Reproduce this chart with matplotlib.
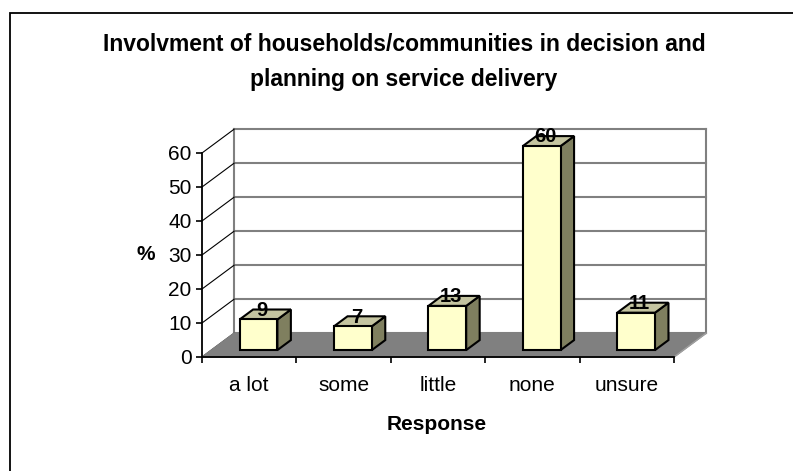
import matplotlib
matplotlib.use('Agg')
import matplotlib.pyplot as plt
from matplotlib.patches import Polygon, Rectangle

categories = ['a lot', 'some', 'little', 'none', 'unsure']
percent = [9, 7, 13, 60, 11]
y_ticks = [0, 10, 20, 30, 40, 50, 60]

plt.rcParams['font.family'] = ['Liberation Sans', 'DejaVu Sans']

# pseudo 3-D: depth of the floor/back wall (x in category units, y in % units)
DX, DY = 0.34, 7.0
F_FRONT, F_BACK = 0.29, 0.71   # bar front / back face as fraction of depth
BAR_W = 0.4

FACE = '#FFFFCC'
SIDE = '#7F7F5F'
TOP = '#C4C4A0'
WALL = '#808080'

fig = plt.figure(figsize=(7.93, 4.71), dpi=100)
ax = fig.add_axes([202 / 793, 114 / 471, 472 / 793, 204 / 471])
n = len(categories)
ymax = y_ticks[-1]
ax.set_xlim(0, n)
ax.set_ylim(0, ymax)
ax.set_facecolor('none')

# floor
ax.add_patch(Polygon([(0, 0), (n, 0), (n + DX, DY), (DX, DY)], closed=True,
                     fc=WALL, ec=WALL, lw=1, clip_on=False, zorder=1))
ax.plot([n, n + DX], [0, DY], color='#A0A0A0', lw=1, clip_on=False, zorder=1.1)

# back wall gridlines and left wall diagonals
for v in y_ticks:
    ax.plot([DX, n + DX], [v + DY, v + DY], color=WALL, lw=1.5,
            clip_on=False, zorder=0.5)
    ax.plot([0, DX], [v, v + DY], color='black', lw=0.8,
            clip_on=False, zorder=0.6)
ax.plot([DX, DX], [DY, ymax + DY], color=WALL, lw=1.5, clip_on=False, zorder=0.5)
ax.plot([n + DX, n + DX], [DY, ymax + DY], color=WALL, lw=1.5,
        clip_on=False, zorder=0.5)

# bars: front, side and top faces
ddx = (F_BACK - F_FRONT) * DX
ddy = (F_BACK - F_FRONT) * DY
for i, v in enumerate(percent):
    x0 = i + 0.5 - BAR_W / 2 + F_FRONT * DX
    x1 = x0 + BAR_W
    yb = F_FRONT * DY
    yt = v + F_FRONT * DY
    front = [(x0, yb), (x1, yb), (x1, yt), (x0, yt)]
    side = [(x1, yb), (x1 + ddx, yb + ddy), (x1 + ddx, yt + ddy), (x1, yt)]
    top = [(x0, yt), (x1, yt), (x1 + ddx, yt + ddy), (x0 + ddx, yt + ddy)]
    for pts, c in [(side, SIDE), (top, TOP), (front, FACE)]:
        ax.add_patch(Polygon(pts, closed=True, fc=c, ec='black', lw=1.5,
                             joinstyle='miter', clip_on=False, zorder=3))
    ax.annotate(str(v), (i + 0.5 + 0.4 * DX, v + 0.5 * DY), xytext=(0, 3),
                textcoords='offset points', ha='center', va='center',
                fontsize=14.5, fontweight='bold', zorder=4,
                annotation_clip=False)

# axes
for s in ['top', 'right']:
    ax.spines[s].set_visible(False)
for s in ['left', 'bottom']:
    ax.spines[s].set_color('black')
    ax.spines[s].set_linewidth(1.3)
    ax.spines[s].set_zorder(2)

ax.set_yticks(y_ticks)
ax.tick_params(axis='y', length=4, width=1.2, labelsize=15, pad=3.5)
ax.set_xticks([i + 0.5 for i in range(n)])
ax.set_xticklabels(categories)
ax.set_xticks(range(n + 1), minor=True)
ax.tick_params(axis='x', which='major', length=0, labelsize=15, pad=14)
ax.tick_params(axis='x', which='minor', length=4, width=1.2)

fig.text(146 / 793, 1 - 255 / 471, '%', ha='center', va='center',
         fontsize=15, fontweight='bold')
fig.text(437 / 793, 1 - 424 / 471, 'Response', ha='center', va='center',
         fontsize=15, fontweight='bold')
fig.text(404 / 793, 1 - 62 / 471,
         'Involvment of households/communities in decision and\n'
         'planning on service delivery',
         ha='center', va='center', fontsize=16.5, fontweight='bold',
         linespacing=1.65)

# chart frame
fig.add_artist(Rectangle((9.5 / 793, -0.05), 1.1, (471 - 12.5) / 471 + 0.05,
                         transform=fig.transFigure, fill=False, ec='black',
                         lw=1.3, clip_on=False))

fig.savefig('out.png', dpi=100)
